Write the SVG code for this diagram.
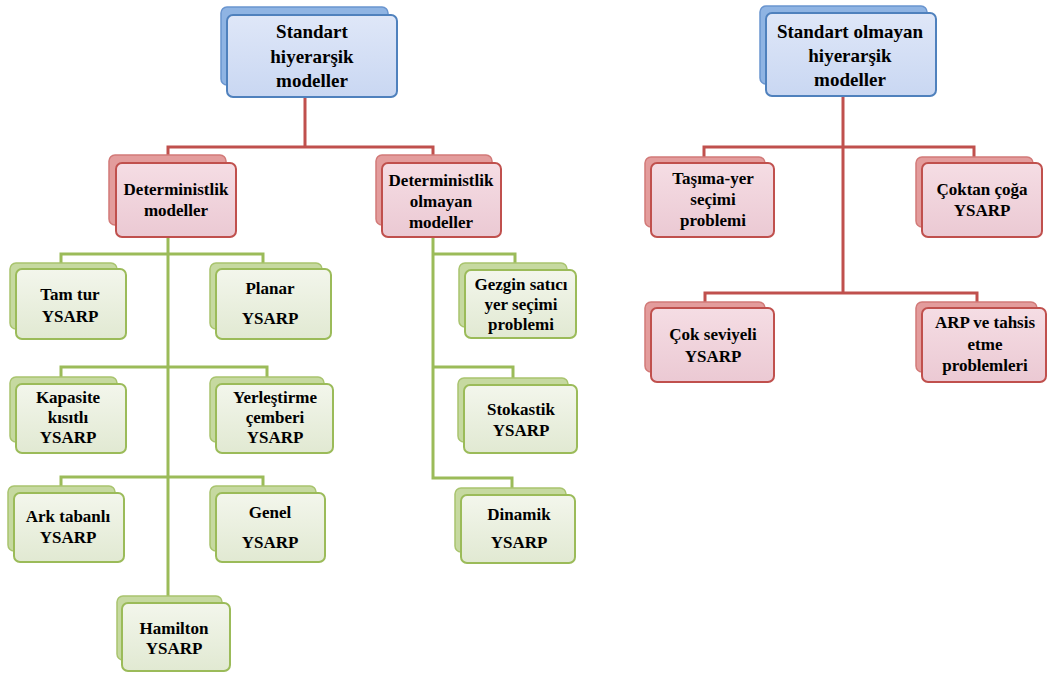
<svg xmlns="http://www.w3.org/2000/svg" width="1048" height="673" viewBox="0 0 1048 673">
<defs>
<linearGradient id="gF" x1="0" y1="0" x2="0" y2="1"><stop offset="0" stop-color="#f3f6ec"/><stop offset="1" stop-color="#e1e9d2"/></linearGradient>
<linearGradient id="rF" x1="0" y1="0" x2="0" y2="1"><stop offset="0" stop-color="#f5dde4"/><stop offset="1" stop-color="#ebc9d3"/></linearGradient>
<linearGradient id="bF" x1="0" y1="0" x2="0" y2="1"><stop offset="0" stop-color="#dfe7f8"/><stop offset="1" stop-color="#c9d7f2"/></linearGradient>
</defs>
<style>
text{font-weight:bold}
.gb{fill:#c6d9a0;stroke:#a9c46e;stroke-width:1.5}
.gf{fill:url(#gF);stroke:#9bbb59;stroke-width:2}
.rb{fill:#e39c9c;stroke:#d27a78;stroke-width:1.5}
.rf{fill:url(#rF);stroke:#c0504d;stroke-width:2}
.bb{fill:#8fb4e3;stroke:#6a95cf;stroke-width:1.5}
.bf{fill:url(#bF);stroke:#4f81bd;stroke-width:2}
.cr{fill:none;stroke:#c0504d;stroke-width:3}
.cg{fill:none;stroke:#9bbb59;stroke-width:3}
</style>
<g id="connectors">
<path class="cr" d="M305 97V147M168 155V147H433V155"/>
<path class="cr" d="M843 96V293M704 157V147H974V157M705 302V293H977V302"/>
<path class="cg" d="M168 237V597M61 263V254H263V263M61 377V367H267V377M61 486V477H263V486"/>
<path class="cg" d="M433 237V478H512V488M433 254H515V263M433 367H513V378"/>
</g>
<g id="n-standart" text-anchor="middle" font-size="19">
<rect class="bb" x="221" y="7" width="167" height="78" rx="6"/>
<rect class="bf" x="227" y="15" width="170" height="82" rx="6"/>
<text style="font-family:'Liberation Serif'" x="312" y="38">Standart</text><text style="font-family:'Liberation Serif'" x="312" y="63">hiyerarşik</text><text style="font-family:'Liberation Serif'" x="312" y="87">modeller</text>
</g>
<g id="n-standart-olmayan" text-anchor="middle" font-size="19">
<rect class="bb" x="760" y="6" width="167" height="78" rx="6"/>
<rect class="bf" x="766" y="13" width="170" height="83" rx="6"/>
<text style="font-family:'Liberation Serif'" x="850" y="38">Standart olmayan</text><text style="font-family:'Liberation Serif'" x="850" y="62">hiyerarşik</text><text style="font-family:'Liberation Serif'" x="850" y="86">modeller</text>
</g>
<g id="n-det" text-anchor="middle" font-size="17">
<rect class="rb" x="109" y="155" width="117" height="70" rx="6"/>
<rect class="rf" x="116" y="163" width="120" height="74" rx="6"/>
<text style="font-family:'Liberation Serif'" x="176" y="195">Deterministlik</text><text style="font-family:'Liberation Serif'" x="176" y="216">modeller</text>
</g>
<g id="n-det-olmayan" text-anchor="middle" font-size="17">
<rect class="rb" x="376" y="155" width="116" height="70" rx="6"/>
<rect class="rf" x="382" y="163" width="119" height="74" rx="6"/>
<text style="font-family:'Liberation Serif'" x="441" y="186">Deterministlik</text><text style="font-family:'Liberation Serif'" x="441" y="207">olmayan</text><text style="font-family:'Liberation Serif'" x="441" y="228">modeller</text>
</g>
<g id="n-tasima" text-anchor="middle" font-size="17">
<rect class="rb" x="645" y="157" width="120" height="70" rx="6"/>
<rect class="rf" x="651" y="163" width="123" height="74" rx="6"/>
<text style="font-family:'Liberation Serif'" x="713" y="184">Taşıma-yer</text><text style="font-family:'Liberation Serif'" x="713" y="205">seçimi</text><text style="font-family:'Liberation Serif'" x="713" y="226">problemi</text>
</g>
<g id="n-coktan" text-anchor="middle" font-size="17">
<rect class="rb" x="916" y="157" width="117" height="70" rx="6"/>
<rect class="rf" x="922" y="163" width="120" height="74" rx="6"/>
<text style="font-family:'Liberation Serif'" x="982" y="195">Çoktan çoğa</text><text style="font-family:'Liberation Serif'" x="982" y="216">YSARP</text>
</g>
<g id="n-cok-seviyeli" text-anchor="middle" font-size="17">
<rect class="rb" x="645" y="302" width="120" height="70" rx="6"/>
<rect class="rf" x="651" y="308" width="123" height="74" rx="6"/>
<text style="font-family:'Liberation Serif'" x="713" y="340">Çok seviyeli</text><text style="font-family:'Liberation Serif'" x="713" y="362">YSARP</text>
</g>
<g id="n-arp" text-anchor="middle" font-size="17">
<rect class="rb" x="916" y="302" width="121" height="70" rx="6"/>
<rect class="rf" x="922" y="308" width="124" height="74" rx="6"/>
<text style="font-family:'Liberation Serif'" x="985" y="328">ARP ve tahsis</text><text style="font-family:'Liberation Serif'" x="985" y="350">etme</text><text style="font-family:'Liberation Serif'" x="985" y="371">problemleri</text>
</g>
<g id="n-tamtur" text-anchor="middle" font-size="17">
<rect class="gb" x="10" y="263" width="107" height="66" rx="6"/>
<rect class="gf" x="16" y="269" width="110" height="70" rx="6"/>
<text style="font-family:'Liberation Serif'" x="70" y="300">Tam tur</text><text style="font-family:'Liberation Serif'" x="70" y="322">YSARP</text>
</g>
<g id="n-planar" text-anchor="middle" font-size="17">
<rect class="gb" x="210" y="263" width="112" height="66" rx="6"/>
<rect class="gf" x="216" y="269" width="115" height="70" rx="6"/>
<text style="font-family:'Liberation Serif'" x="270" y="294">Planar</text><text style="font-family:'Liberation Serif'" x="270" y="324">YSARP</text>
</g>
<g id="n-kapasite" text-anchor="middle" font-size="17">
<rect class="gb" x="10" y="377" width="107" height="65" rx="6"/>
<rect class="gf" x="16" y="384" width="110" height="69" rx="6"/>
<text style="font-family:'Liberation Serif'" x="68" y="403">Kapasite</text><text style="font-family:'Liberation Serif'" x="68" y="423">kısıtlı</text><text style="font-family:'Liberation Serif'" x="68" y="443">YSARP</text>
</g>
<g id="n-yerlestirme" text-anchor="middle" font-size="17">
<rect class="gb" x="210" y="377" width="114" height="65" rx="6"/>
<rect class="gf" x="216" y="384" width="117" height="69" rx="6"/>
<text style="font-family:'Liberation Serif'" x="275" y="403">Yerleştirme</text><text style="font-family:'Liberation Serif'" x="275" y="423">çemberi</text><text style="font-family:'Liberation Serif'" x="275" y="443">YSARP</text>
</g>
<g id="n-ark" text-anchor="middle" font-size="17">
<rect class="gb" x="8" y="486" width="107" height="65" rx="6"/>
<rect class="gf" x="14" y="493" width="110" height="69" rx="6"/>
<text style="font-family:'Liberation Serif'" x="68" y="522">Ark tabanlı</text><text style="font-family:'Liberation Serif'" x="68" y="543">YSARP</text>
</g>
<g id="n-genel" text-anchor="middle" font-size="17">
<rect class="gb" x="210" y="486" width="106" height="65" rx="6"/>
<rect class="gf" x="216" y="493" width="109" height="69" rx="6"/>
<text style="font-family:'Liberation Serif'" x="270" y="518">Genel</text><text style="font-family:'Liberation Serif'" x="270" y="548">YSARP</text>
</g>
<g id="n-hamilton" text-anchor="middle" font-size="17">
<rect class="gb" x="117" y="596" width="105" height="64" rx="6"/>
<rect class="gf" x="122" y="603" width="108" height="68" rx="6"/>
<text style="font-family:'Liberation Serif'" x="174" y="634">Hamilton</text><text style="font-family:'Liberation Serif'" x="174" y="654">YSARP</text>
</g>
<g id="n-gezgin" text-anchor="middle" font-size="17">
<rect class="gb" x="459" y="263" width="108" height="64" rx="6"/>
<rect class="gf" x="465" y="270" width="111" height="68" rx="6"/>
<text style="font-family:'Liberation Serif'" x="521" y="290">Gezgin satıcı</text><text style="font-family:'Liberation Serif'" x="521" y="310">yer seçimi</text><text style="font-family:'Liberation Serif'" x="521" y="330">problemi</text>
</g>
<g id="n-stokastik" text-anchor="middle" font-size="17">
<rect class="gb" x="458" y="378" width="110" height="64" rx="6"/>
<rect class="gf" x="464" y="385" width="113" height="68" rx="6"/>
<text style="font-family:'Liberation Serif'" x="521" y="415">Stokastik</text><text style="font-family:'Liberation Serif'" x="521" y="436">YSARP</text>
</g>
<g id="n-dinamik" text-anchor="middle" font-size="17">
<rect class="gb" x="455" y="488" width="111" height="64" rx="6"/>
<rect class="gf" x="461" y="495" width="114" height="68" rx="6"/>
<text style="font-family:'Liberation Serif'" x="519" y="520">Dinamik</text><text style="font-family:'Liberation Serif'" x="519" y="548">YSARP</text>
</g>
</svg>
